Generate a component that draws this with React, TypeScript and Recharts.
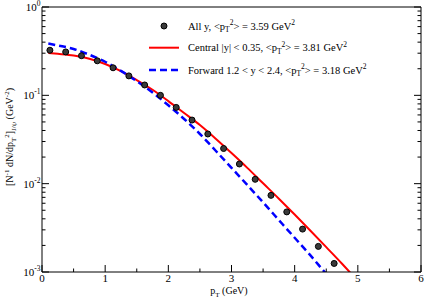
import React from "react";
import { ComposedChart, Line, Scatter, XAxis, YAxis, Legend } from "recharts";

// Measured J/psi yield, all rapidities
const ptData = [
  0.125, 0.375, 0.625, 0.875, 1.125, 1.375, 1.625, 1.875, 2.125, 2.375, 2.625,
  2.875, 3.125, 3.375, 3.625, 3.875, 4.125, 4.375, 4.625,
];
const yieldAll = [
  0.324, 0.31, 0.281, 0.246, 0.205, 0.166, 0.131, 0.1, 0.073, 0.0525, 0.0365,
  0.025, 0.0167, 0.0112, 0.00737, 0.00479, 0.00306, 0.00195, 0.00125,
];

// Model curves
const ptCentral = [
  0.1, 0.25, 0.5, 0.75, 1.0, 1.25, 1.5, 1.75, 2.0, 2.25, 2.5, 2.75, 3.0, 3.25,
  3.5, 3.75, 4.0, 4.25, 4.5, 4.75, 5.0,
];
const yieldCentral = [
  0.302, 0.295, 0.282, 0.26, 0.2265, 0.188, 0.149, 0.1156, 0.0861, 0.0631,
  0.0461, 0.0323, 0.0222, 0.0151, 0.0101, 0.00676, 0.00447, 0.00293, 0.00191,
  0.00124, 0.00079,
];
const ptForward = [
  0.1, 0.25, 0.5, 0.75, 1.0, 1.25, 1.5, 1.75, 2.0, 2.25, 2.5, 2.75, 3.0, 3.25,
  3.5, 3.75, 4.0, 4.25, 4.5, 4.75,
];
const yieldForward = [
  0.386, 0.367, 0.335, 0.288, 0.24, 0.189, 0.145, 0.1076, 0.0771, 0.054,
  0.0365, 0.0236, 0.0151, 0.00966, 0.00614, 0.00387, 0.00244, 0.00154,
  0.00095, 0.0006,
];

// Axis ticks
const xTicks = [0, 0.5, 1, 1.5, 2, 2.5, 3, 3.5, 4, 4.5, 5, 5.5, 6];
const yTicks = [
  0.001, 0.002, 0.003, 0.004, 0.005, 0.006, 0.007, 0.008, 0.009,
  0.01, 0.02, 0.03, 0.04, 0.05, 0.06, 0.07, 0.08, 0.09,
  0.1, 0.2, 0.3, 0.4, 0.5, 0.6, 0.7, 0.8, 0.9, 1,
];

// Legend text: [before subscript, mean pT^2 value]
const legendNames = ["All y, ", "Central |y| < 0.35, ", "Forward 1.2 < y < 2.4, "];
const legendMeans = ["3.59", "3.81", "3.18"];

const dataPoints = ptData.map((x, i) => ({ x, y: yieldAll[i] }));
const centralCurve = ptCentral.map((x, i) => ({ x, y: yieldCentral[i] }));
const forwardCurve = ptForward.map((x, i) => ({ x, y: yieldForward[i] }));

const FONT = '"Liberation Serif", "Times New Roman", serif';
const RED = "#ff0000";
const BLUE = "#0000ff";

const isDecade = (v: number) => {
  const l = Math.log10(v);
  return Math.abs(l - Math.round(l)) < 1e-6;
};

const BottomTick = (props: any) => {
  const { x, y, payload } = props;
  const major = Number.isInteger(payload.value);
  return (
    <g>
      <line x1={x} x2={x} y1={y} y2={y - (major ? 7 : 3.5)} stroke="#000" />
      {major && (
        <text x={x} y={y + 9.5} textAnchor="middle" fontFamily={FONT} fontSize={11} fill="#000">
          {payload.value}
        </text>
      )}
    </g>
  );
};

const TopTick = (props: any) => {
  const { x, y, payload } = props;
  const major = Number.isInteger(payload.value);
  return <line x1={x} x2={x} y1={y} y2={y + (major ? 7 : 3.5)} stroke="#000" />;
};

const LeftTick = (props: any) => {
  const { x, y, payload } = props;
  const major = isDecade(payload.value);
  const exp = Math.round(Math.log10(payload.value));
  return (
    <g>
      <line x1={x} x2={x + (major ? 7 : 3.5)} y1={y} y2={y} stroke="#000" />
      {major && (
        <text x={x - 1.5} y={y + 4} textAnchor="end" fontFamily={FONT} fontSize={11} fill="#000">
          10
          <tspan dy={-5} fontSize={7.5}>{exp}</tspan>
        </text>
      )}
    </g>
  );
};

const RightTick = (props: any) => {
  const { x, y, payload } = props;
  const major = isDecade(payload.value);
  return <line x1={x} x2={x - (major ? 7 : 3.5)} y1={y} y2={y} stroke="#000" />;
};

const YTitle = () => (
  <text
    transform="translate(13,137) rotate(-90)"
    textAnchor="middle"
    fontFamily={FONT}
    fontSize={10}
    fill="#000"
  >
    [N<tspan dy={-4} fontSize={7}>-1</tspan>
    <tspan dy={4}> dN/dp</tspan>
    <tspan dy={2.5} fontSize={7}>T</tspan>
    <tspan dy={-6.5} fontSize={7}>2</tspan>
    <tspan dy={4}>]</tspan>
    <tspan dy={2.5} fontSize={7}>J/ψ</tspan>
    <tspan dy={-2.5}> (GeV</tspan>
    <tspan dy={-4} fontSize={7}>-2</tspan>
    <tspan dy={4}>)</tspan>
  </text>
);

const XTitle = () => (
  <text x={229} y={294} textAnchor="middle" fontFamily={FONT} fontSize={10} fill="#000">
    p<tspan dy={2.5} fontSize={7}>T</tspan>
    <tspan dy={-2.5}> (GeV)</tspan>
  </text>
);

const LegendRow = ({ name, mean, y }: { name: string; mean: string; y: number }) => (
  <text x={43} y={y + 3.5} fontFamily={FONT} fontSize={10.5} fill="#000">
    {name}&lt;p<tspan dy={2.5} fontSize={7.5}>T</tspan>
    <tspan dy={-7} fontSize={7.5}>2</tspan>
    <tspan dy={4.5}>{`> = ${mean} GeV`}</tspan>
    <tspan dy={-4.5} fontSize={7.5}>2</tspan>
  </text>
);

const ChartLegend = () => {
  const rows = [16, 37.7, 60];
  return (
    <svg width={275} height={72} style={{ display: "block" }}>
      <circle cx={19} cy={rows[0]} r={3} fill="#3a3a3a" stroke="#000" />
      <line x1={4} x2={34} y1={rows[1]} y2={rows[1]} stroke={RED} strokeWidth={2} />
      <line x1={4} x2={34} y1={rows[2]} y2={rows[2]} stroke={BLUE} strokeWidth={2.5} strokeDasharray="7 4" />
      {legendNames.map((n, i) => (
        <LegendRow key={n} name={n} mean={legendMeans[i]} y={rows[i]} />
      ))}
    </svg>
  );
};

export default function App() {
  return (
    <div style={{ position: "absolute", left: 0, top: 0, background: "#fff" }}>
      <ComposedChart
        width={425}
        height={299}
        margin={{ top: 6, right: 3, bottom: 26, left: 41 }}
      >
        <XAxis
          dataKey="x"
          type="number"
          domain={[0, 6]}
          ticks={xTicks}
          interval={0}
          height={1}
          tickSize={0}
          tickMargin={0}
          tickLine={false}
          axisLine={{ stroke: "#000" }}
          tick={<BottomTick />}
          label={<XTitle />}
        />
        <XAxis
          xAxisId="top"
          orientation="top"
          type="number"
          domain={[0, 6]}
          ticks={xTicks}
          interval={0}
          height={1}
          tickSize={0}
          tickMargin={0}
          tickLine={false}
          axisLine={{ stroke: "#000" }}
          tick={<TopTick />}
        />
        <YAxis
          type="number"
          scale="log"
          domain={[0.001, 1]}
          allowDataOverflow
          ticks={yTicks}
          interval={0}
          width={1}
          tickSize={0}
          tickMargin={0}
          tickLine={false}
          axisLine={{ stroke: "#000" }}
          tick={<LeftTick />}
          label={<YTitle />}
        />
        <YAxis
          yAxisId="right"
          orientation="right"
          type="number"
          scale="log"
          domain={[0.001, 1]}
          allowDataOverflow
          ticks={yTicks}
          interval={0}
          width={1}
          tickSize={0}
          tickMargin={0}
          tickLine={false}
          axisLine={{ stroke: "#000" }}
          tick={<RightTick />}
        />
        <Legend
          layout="vertical"
          align="center"
          verticalAlign="middle"
          wrapperStyle={{ left: 145, top: 10, width: 275 }}
          content={<ChartLegend />}
        />
        <Line
          data={centralCurve}
          dataKey="y"
          type="monotone"
          stroke={RED}
          strokeWidth={2}
          dot={false}
          isAnimationActive={false}
        />
        <Line
          data={forwardCurve}
          dataKey="y"
          type="monotone"
          stroke={BLUE}
          strokeWidth={2.5}
          strokeDasharray="7 4"
          dot={false}
          isAnimationActive={false}
        />
        <Scatter
          data={dataPoints}
          dataKey="y"
          isAnimationActive={false}
          shape={(p: any) => (
            <circle cx={p.cx} cy={p.cy} r={3} fill="#3a3a3a" stroke="#000" />
          )}
        />
      </ComposedChart>
    </div>
  );
}
